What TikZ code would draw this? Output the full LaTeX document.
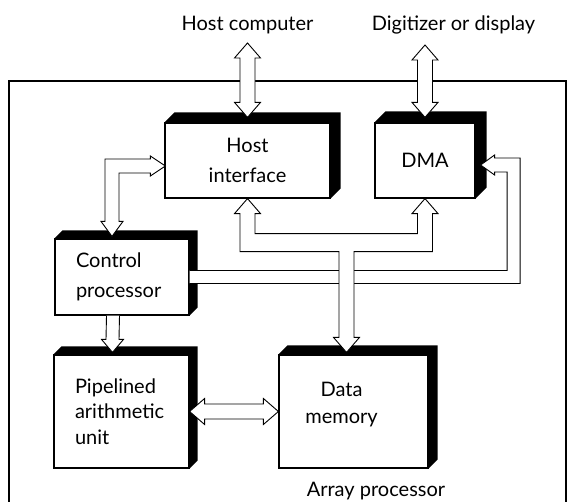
\documentclass[tikz,border=0pt]{standalone}
\usepackage{fontspec}
\setmainfont{Lato}
\usetikzlibrary{calc,backgrounds}

% hollow two-headed pipes: vertical (top tip, bottom tip), horizontal (left tip, right tip)
\newcommand{\vpipe}[2]{\draw[pipe] (#1) -- ++(13,-15) -- ++(-5.5,0) -- ($(#2)+(7.5,15)$) -- ++(5.5,0) -- (#2) -- ++(-13,15) -- ++(5.5,0) -- ($(#1)+(-7.5,-15)$) -- ++(-5.5,0) -- cycle;}
\newcommand{\hpipe}[2]{\draw[pipe] (#1) -- ++(15,13) -- ++(0,-5.5) -- ($(#2)+(-15,7.5)$) -- ++(0,5.5) -- (#2) -- ++(-15,-13) -- ++(0,5.5) -- ($(#1)+(15,-7.5)$) -- ++(0,-5.5) -- cycle;}

\begin{document}
\begin{tikzpicture}[x=1pt, y=1pt,
  lbl/.style={font=\fontsize{20}{24}\selectfont, inner sep=0pt},
  blk/.style={draw, fill=white, line width=1.2pt, inner sep=0pt, align=center, font=\fontsize{20}{28}\selectfont},
  pipe/.style={draw, fill=white, line width=0.9pt, line join=miter}]
\useasboundingbox (0,0) rectangle (570,502);
\draw[line width=1.1pt] (9,-2) |- (566,421) -- (566,-2);
\node[lbl, anchor=base] (hc) at (247.5,471) {Host computer};
\node[lbl, anchor=base] (dd) at (453.5,471) {Digitizer or display};
\node[lbl, anchor=base] (ap) at (376,5) {Array processor};
\node[blk, minimum width=165, minimum height=75, font=\fontsize{20}{30}\selectfont] (hi) at (247.5,341.5) {Host\\interface};
\node[blk, minimum width=100, minimum height=75] (dma) at (425,341.5) {DMA};
\node[blk, minimum width=134, minimum height=76, text width=92, align=left, font=\fontsize{20}{30}\selectfont] (cp) at (122,225) {Control\\processor};
\node[blk, minimum width=135, minimum height=113, text width=93, align=left, font=\fontsize{20}{25.5}\selectfont] (pau) at (121.5,90.5) {Pipelined\\arithmetic\\unit};
\node[blk, minimum width=149, minimum height=113,
  label={[lbl, align=center, font=\fontsize{20}{27}\selectfont, xshift=-12, yshift=7]center:Data\\memory}] (dm) at (353.5,90.5) {};
% black extruded sides
\begin{scope}[on background layer]
\foreach \b/\d in {hi/10,dma/11,cp/8,pau/8,dm/9}
  \fill (\b.north west) -- ++(\d,\d) -- ($(\b.north east)+(\d,\d)$) -- ($(\b.south east)+(\d,\d)$) -- (\b.south east) -- (\b.north east) -- cycle;
\end{scope}
\coordinate (hcT) at ($(hc.base)+(0,-12)$);
\coordinate (ddT) at (425,457);
\coordinate (hiT) at ($(hi.north)+(0,5)$);
\coordinate (dmaT) at ($(dma.north)+(0,5)$);
\coordinate (hiL) at ($(hi.west)+(1,-5.5)$);
\coordinate (cpT) at ($(cp.north)+(-10,2)$);
\coordinate (cpS) at ($(cp.south)+(-9,0)$);
\coordinate (pauT) at ($(pau.north)+(-9,2)$);
\coordinate (dmT) at ($(dm.north)+(-7,2)$);
\coordinate (dmaR) at ($(dma.east)+(5,-4.5)$);
\coordinate (j) at ($(hi.south -| dmT)+(0,-44)$);
\coordinate (k) at ($(cp.east -| dmaR)+(33,0)$);
\vpipe{hcT}{hiT}
\vpipe{ddT}{dmaT}
\hpipe{pau.east}{dm.west}
\draw[pipe] (hiL) -- ++(-15,10) -- ++(0,-3) -- ($(cpT|-hiL)+(-7,7)$) -- ($(cpT)+(-7,15)$) -- ++(-4,0) -- (cpT) -- ++(11,15) -- ++(-4,0) -- ($(cpT|-hiL)+(7,-7)$) -- ($(hiL)+(-15,-7)$) -- ++(0,-3) -- cycle;
\draw[pipe] ($(cpS)+(-6.5,0)$) -- ($(pauT)+(-6.5,13)$) -- ++(-4.5,0) -- (pauT) -- ++(11,13) -- ++(-4.5,0) -- ($(cpS)+(6.5,0)$);
\draw[pipe] ($(cp.east)+(0,6.5)$) -- ($(k)+(-6.5,6.5)$) -- ($(k|-dmaR)+(-6.5,-7)$) -- ($(dmaR)+(14,-7)$) -- ++(0,-3) -- (dmaR) -- ++(14,10) -- ++(0,-3) -- ($(k|-dmaR)+(6.5,7)$) -- ($(k)+(6.5,-6.5)$) -- ($(cp.east)+(0,-6.5)$);
\draw[pipe] (hi.south) -- ++(13,-15) -- ++(-5.5,0) -- ($(hi.south|-j)+(7.5,9)$) -- ($(dma.south|-j)+(-7.5,9)$) -- ($(dma.south)+(-7.5,-15)$) -- ++(-5.5,0) -- (dma.south) -- ++(13,-15) -- ++(-5.5,0) -- ($(dma.south|-j)+(7.5,-9)$) -- ($(j)+(7.5,-9)$) -- ($(dmT)+(7.5,15)$) -- ++(5.5,0) -- (dmT) -- ++(-13,15) -- ++(5.5,0) -- ($(j)+(-7.5,-9)$) -- ($(hi.south|-j)+(-7.5,-9)$) -- ($(hi.south)+(-7.5,-15)$) -- ++(-5.5,0) -- cycle;
\end{tikzpicture}
\end{document}
